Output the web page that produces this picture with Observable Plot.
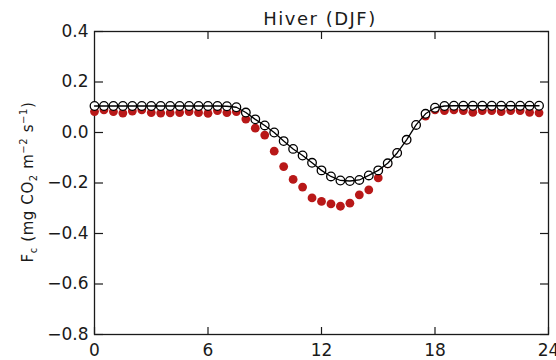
<!DOCTYPE html>
<html>
<head>
<meta charset="utf-8">
<script src="https://cdn.jsdelivr.net/npm/d3@7"></script>
<script src="https://cdn.jsdelivr.net/npm/@observablehq/plot@0.6"></script>
<style>
  html, body { margin: 0; padding: 0; background: white; }
</style>
</head>
<body>
<div id="chart"></div>
<script>
// Hour of day (half-hourly)
const hours = [0, 0.5, 1, 1.5, 2, 2.5, 3, 3.5, 4, 4.5, 5, 5.5, 6, 6.5, 7, 7.5,
               8, 8.5, 9, 9.5, 10, 10.5, 11, 11.5, 12, 12.5, 13, 13.5, 14, 14.5, 15, 15.5,
               16, 16.5, 17, 17.5, 18, 18.5, 19, 19.5, 20, 20.5, 21, 21.5, 22, 22.5, 23, 23.5];
// Open black circles (with line)
const fcOpen = [0.105, 0.105, 0.105, 0.105, 0.105, 0.105, 0.105, 0.105, 0.105, 0.105, 0.105, 0.105, 0.105, 0.105, 0.104, 0.100,
                0.079, 0.052, 0.028, 0.000, -0.034, -0.065, -0.091, -0.120, -0.150, -0.174, -0.190, -0.192, -0.188, -0.170, -0.150, -0.122,
                -0.081, -0.029, 0.030, 0.074, 0.098, 0.105, 0.106, 0.106, 0.106, 0.106, 0.106, 0.106, 0.106, 0.106, 0.106, 0.106];
// Filled red dots
const fcRed = [0.083, 0.090, 0.083, 0.077, 0.085, 0.090, 0.079, 0.077, 0.078, 0.079, 0.083, 0.079, 0.076, 0.087, 0.079, 0.083,
               0.053, 0.017, -0.010, -0.074, -0.135, -0.186, -0.216, -0.259, -0.273, -0.283, -0.292, -0.280, -0.247, -0.227, -0.180, -0.124,
               -0.081, -0.029, 0.030, 0.065, 0.090, 0.087, 0.090, 0.087, 0.080, 0.087, 0.087, 0.083, 0.087, 0.087, 0.080, 0.078];
const xTicks = [0, 6, 12, 18, 24];
const xInnerTicks = [6, 12, 18];
const yTicks = [-0.8, -0.6, -0.4, -0.2, 0.0, 0.2, 0.4];
const title = "Hiver (DJF)";

const data = hours.map((h, i) => ({h, open: fcOpen[i], red: fcRed[i]}));

const plot = Plot.plot({
  width: 556,
  height: 360,
  marginLeft: 94,
  marginRight: 8,
  marginTop: 31,
  marginBottom: 26,
  style: {fontFamily: "'DejaVu Sans', sans-serif", fontSize: "17px", color: "#1a1a1a", background: "white", overflow: "visible"},
  x: {domain: [0, 24]},
  y: {domain: [-0.8, 0.4]},
  marks: [
    Plot.axisX({ticks: xTicks, tickSize: -7, tickPadding: 16, tickFormat: d => String(d), label: null, strokeWidth: 1.2}),
    Plot.axisX({anchor: "top", ticks: xInnerTicks, tickSize: -7, tickFormat: () => "", label: null, strokeWidth: 1.2}),
    Plot.axisY({ticks: yTicks, tickSize: -9, tickPadding: 15, tickFormat: d3.format(".1f"), label: null, strokeWidth: 1.2}),
    Plot.axisY({anchor: "right", ticks: yTicks, tickSize: -9, tickFormat: () => "", label: null, strokeWidth: 1.2}),
    Plot.frame({stroke: "#1a1a1a", strokeWidth: 1.3}),
    Plot.dot(data, {x: "h", y: "red", r: 4.4, fill: "#b81818", stroke: "none"}),
    Plot.dot(data, {x: "h", y: "open", r: 4.3, fill: "white", stroke: "black", strokeWidth: 1.3}),
    Plot.line(data, {x: "h", y: "open", stroke: "black", strokeWidth: 1.3})
  ]
});

const svg = d3.select(plot);
// Title
svg.append("text")
  .attr("x", 320).attr("y", 25)
  .attr("text-anchor", "middle")
  .attr("font-family", "'DejaVu Sans', sans-serif")
  .attr("font-size", 18)
  .attr("letter-spacing", "1.5px")
  .attr("fill", "#1a1a1a")
  .text(title);

// Y label with subscripts/superscripts
const yl = svg.append("text")
  .attr("transform", "translate(33,182) rotate(-90)")
  .attr("text-anchor", "middle")
  .attr("font-family", "'DejaVu Sans', sans-serif")
  .attr("font-size", 15)
  .attr("letter-spacing", "0.6px")
  .attr("fill", "#1a1a1a");
const parts = [
  {t: "F"}, {t: "c", sub: true}, {t: " (mg CO"}, {t: "2", sub: true},
  {t: " m"}, {t: "\u22122", sup: true}, {t: " s"}, {t: "\u22121", sup: true}, {t: ")"}
];
let shift = 0;
for (const p of parts) {
  const target = p.sub ? 4 : p.sup ? -6 : 0;
  const ts = yl.append("tspan").attr("dy", target - shift).text(p.t);
  if (p.sub || p.sup) ts.attr("font-size", 10);
  shift = target;
}

document.getElementById("chart").appendChild(plot);
</script>
</body>
</html>
